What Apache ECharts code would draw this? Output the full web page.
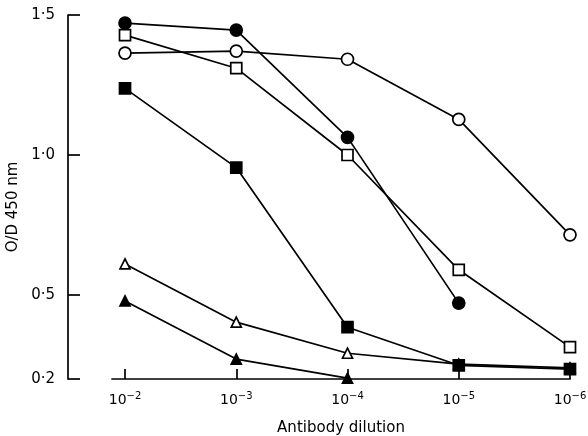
<!DOCTYPE html>
<html>
<head>
<meta charset="utf-8">
<script src="https://cdn.jsdelivr.net/npm/echarts@6/dist/echarts.min.js"></script>
<style>html,body{margin:0;padding:0;background:#fff}#c{width:588px;height:436px}</style>
</head>
<body>
<div id="c"></div>
<script>
const categories = ['−2', '−3', '−4', '−5', '−6']; // exponents of 10
const yTicks = [0.2, 0.5, 1.0, 1.5];
const filledCircle = [1.471, 1.446, 1.063, 0.471, null];
const openCircle = [1.364, 1.371, 1.342, 1.127, 0.715];
const openSquare = [1.428, 1.310, 1.000, 0.590, 0.314];
const openTriangle = [0.611, 0.403, 0.292, 0.253, 0.240];
const filledSquare = [1.238, 0.955, 0.385, 0.249, 0.235];
const filledTriangle = [0.479, 0.271, 0.203, null, null];

const FONT = 'DejaVu Sans';
function pts(arr) { return arr.map((v, i) => [i, v]); }
function mk(name, data, symbol, filled, size) {
  return {
    name, type: 'line', data: pts(data), symbol, symbolSize: size,
    showSymbol: true, connectNulls: false,
    lineStyle: { color: '#000', width: 1.7 },
    itemStyle: { color: filled ? '#000' : '#fff', borderColor: '#000', borderWidth: 1.7 },
    emphasis: { disabled: true }, animation: false, z: filled ? 3 : 2
  };
}
const chart = echarts.init(document.getElementById('c'), null, { renderer: 'canvas' });
chart.setOption({
  animation: false,
  backgroundColor: '#fff',
  grid: { left: 112, right: 18, top: 15, bottom: 57, containLabel: false, outerBoundsMode: 'none' },
  xAxis: {
    type: 'value', min: -0.117, max: 4, interval: 1,
    axisLine: { show: true, onZero: false, lineStyle: { color: '#000', width: 1.7 } },
    axisTick: { show: true, inside: true, length: 10, lineStyle: { color: '#000', width: 1.7 },
      customValues: [0, 1, 2, 3, 4] },
    splitLine: { show: false },
    axisLabel: {
      customValues: [0, 1, 2, 3, 4],
      margin: 12,
      formatter: v => '{a|10}{b|' + categories[Math.round(v)] + '}',
      rich: {
        a: { fontFamily: FONT, fontSize: 14, color: '#000' },
        b: { fontFamily: FONT, fontSize: 10, color: '#000', padding: [0, 0, 9, 0] }
      }
    },
    name: 'Antibody dilution', nameLocation: 'middle', nameGap: 42,
    nameTextStyle: { fontFamily: FONT, fontSize: 15, color: '#000' }
  },
  yAxis: {
    type: 'value', min: 0.2, max: 1.5, offset: 44,
    axisLine: { show: true, onZero: false, lineStyle: { color: '#000', width: 1.7 } },
    axisTick: { show: true, inside: true, length: 12, lineStyle: { color: '#000', width: 1.7 },
      customValues: yTicks },
    splitLine: { show: false },
    axisLabel: {
      customValues: yTicks, margin: 13,
      formatter: v => v.toFixed(1).replace('.', '·'),
      fontFamily: FONT, fontSize: 15, color: '#000'
    },
    name: 'O/D 450 nm', nameLocation: 'middle', nameGap: 43,
    nameTextStyle: { fontFamily: FONT, fontSize: 15, color: '#000', padding: [0, 20, 0, 0] }
  },
  series: [
    mk('open circle', openCircle, 'circle', false, 12),
    mk('open square', openSquare, 'rect', false, 11),
    mk('filled circle', filledCircle, 'circle', true, 12),
    mk('open triangle', openTriangle, 'triangle', false, 10),
    mk('filled triangle', filledTriangle, 'triangle', true, 10),
    mk('filled square', filledSquare, 'rect', true, 11)
  ]
});
</script>
</body>
</html>
